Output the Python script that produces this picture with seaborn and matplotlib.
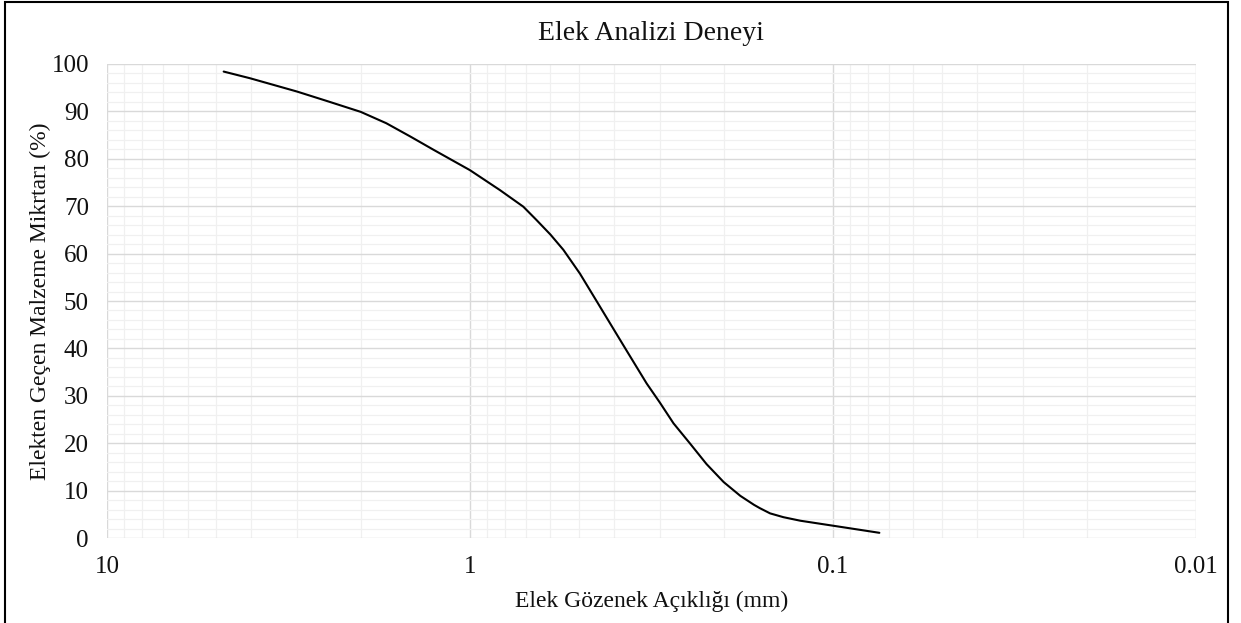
import numpy as np
import pandas as pd
import matplotlib
matplotlib.use("Agg")
import matplotlib.pyplot as plt
import matplotlib.ticker as mticker
from matplotlib.patches import Rectangle
import seaborn as sns

# okunan egri noktalari (elek acikligi mm, gecen %)
acikliklar = [4.77, 4.04, 3.0, 2.48, 2.0, 1.70, 1.46, 1.26, 1.0, 0.827, 0.713,
              0.656, 0.60, 0.553, 0.498, 0.448, 0.398, 0.370, 0.326,
              0.300, 0.275, 0.248, 0.223, 0.200, 0.180, 0.165, 0.159, 0.149,
              0.137, 0.123, 0.100, 0.0745]
gecen = [98.4, 97.0, 94.2, 92.2, 89.9, 87.5, 84.7, 81.9, 77.6, 73.4, 69.9,
         67.1, 64.0, 60.8, 55.8, 50.0, 43.5, 39.5, 32.6,
         28.6, 24.2, 20.0, 15.6, 11.8, 8.9, 7.0, 6.3, 5.2,
         4.4, 3.65, 2.6, 1.1]

x_ticks = [10, 1, 0.1, 0.01]
x_tick_labels = ["10", "1", "0.1", "0.01"]
y_ticks = list(range(0, 101, 10))

dati = pd.DataFrame({"aciklik": acikliklar, "gecen": gecen})

sns.set_theme(style="white")
plt.rcParams["font.family"] = ["Liberation Serif", "DejaVu Serif"]

fig = plt.figure(figsize=(12.41, 6.23), dpi=100)
ax = fig.add_axes([0.0862, 0.1364, 0.9637 - 0.0862, 0.8973 - 0.1364])

sns.lineplot(data=dati, x="aciklik", y="gecen", color="black", linewidth=1.5,
             sort=False, estimator=None, ax=ax)

ax.set_xscale("log")
ax.set_xlim(10, 0.01)
ax.set_ylim(0, 100)
ax.xaxis.set_major_locator(mticker.FixedLocator(x_ticks))
ax.xaxis.set_major_formatter(mticker.FixedFormatter(x_tick_labels))
ax.xaxis.set_minor_locator(mticker.LogLocator(base=10, subs=np.arange(2, 10)))
ax.xaxis.set_minor_formatter(mticker.NullFormatter())
ax.set_yticks(y_ticks)
ax.yaxis.set_minor_locator(mticker.MultipleLocator(2))

ax.grid(which="major", color="#d9d9d9", linewidth=1.0)
ax.grid(which="minor", color="#f0f0f0", linewidth=0.9)
ax.set_axisbelow(True)
for s in ax.spines.values():
    s.set_visible(False)
ax.tick_params(which="both", length=0)
ax.tick_params(axis="y", labelsize=18, pad=13, colors="#111111")
ax.tick_params(axis="x", labelsize=18, pad=13, colors="#111111")

ax.set_title("Elek Analizi Deneyi", fontsize=20, pad=17, color="#111111")
ax.set_xlabel("Elek Gözenek Açıklığı (mm)", fontsize=17, labelpad=9, color="#111111")
ax.set_ylabel("Elekten Geçen Malzeme Mikrtarı (%)", fontsize=17, labelpad=0, color="#111111")

fig.add_artist(Rectangle((5 / 1241, -0.01), 1223 / 1241, 1.01 - 2 / 623,
                         transform=fig.transFigure, fill=False,
                         edgecolor="black", linewidth=1.5))

plt.savefig("out.png", dpi=100)
